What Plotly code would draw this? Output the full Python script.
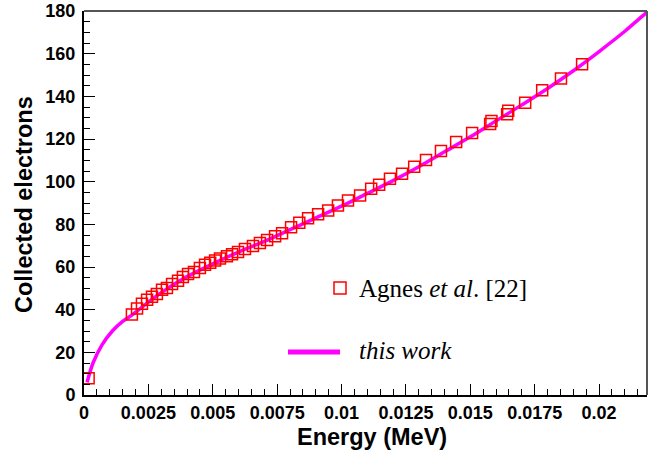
import plotly.graph_objects as go

# Data: Agnes et al. [22]
agnes_E = [0.00018, 0.00186, 0.00206, 0.00225, 0.00245, 0.00264, 0.00283, 0.00303, 0.00322,
           0.00342, 0.00365, 0.00384, 0.00404, 0.00427, 0.00450, 0.00470, 0.00490, 0.00509,
           0.00528, 0.00555, 0.00575, 0.00598, 0.00625, 0.00656, 0.00683, 0.00711, 0.00742,
           0.00769, 0.00804, 0.00836, 0.00870, 0.00909, 0.00948, 0.00986, 0.01025, 0.01072,
           0.01115, 0.01146, 0.01188, 0.01235, 0.01282, 0.01328, 0.01386, 0.01445, 0.01507,
           0.01577, 0.01582, 0.01643, 0.01647, 0.01713, 0.01779, 0.01852, 0.01934]
agnes_N = [7.9, 37.7, 40.5, 42.8, 44.7, 46.0, 47.4, 49.3, 50.2,
           52.0, 53.5, 55.3, 56.7, 57.7, 59.5, 61.0, 62.0, 63.0,
           64.0, 65.0, 66.0, 67.0, 68.4, 69.8, 71.2, 72.6, 74.4,
           75.8, 78.6, 80.8, 82.8, 84.7, 86.5, 88.8, 91.2, 93.5,
           96.7, 98.6, 101.4, 103.7, 107.0, 110.2, 114.4, 118.6, 122.8,
           127.0, 128.4, 131.6, 133.3, 137.0, 142.8, 148.4, 155.0]

# Data: this work (curve)
work_E = [0.00012, 0.00035, 0.0007, 0.0011, 0.0015, 0.0019, 0.0025, 0.003, 0.004, 0.005,
          0.006, 0.007, 0.008, 0.009, 0.010, 0.011, 0.012, 0.013, 0.014, 0.015, 0.016,
          0.017, 0.018, 0.019, 0.020, 0.021, 0.02186, 0.0225]
work_N = [6.0, 15.0, 23.5, 30.0, 34.5, 37.8, 43.5, 48.0, 55.5, 61.5,
          67.0, 72.0, 77.5, 83.0, 88.5, 94.5, 100.5, 107.0, 114.0, 121.0, 128.5,
          136.0, 143.7, 152.0, 161.0, 170.5, 179.5, 186.0]

x_tickvals = [0, 0.0025, 0.005, 0.0075, 0.01, 0.0125, 0.015, 0.0175, 0.02]
x_ticktext = ["0", "0.0025", "0.005", "0.0075", "0.01", "0.0125", "0.015", "0.0175", "0.02"]
y_tickvals = [0, 20, 40, 60, 80, 100, 120, 140, 160, 180]

fig = go.Figure()
fig.add_trace(go.Scatter(x=work_E, y=work_N, mode="lines", line=dict(color="#ff00ff", width=3.5, shape="spline", smoothing=0.8),
                         showlegend=False))
fig.add_trace(go.Scatter(x=agnes_E, y=agnes_N, mode="markers",
                         marker=dict(symbol="square-open", size=11, color="#ff0000", line=dict(width=1.5, color="#ff0000")),
                         showlegend=False, cliponaxis=False))

tickfont = dict(family="Liberation Sans", size=18, color="black", weight="bold")
fig.update_xaxes(range=[0, 0.02186], tickvals=x_tickvals, ticktext=x_ticktext, ticks="inside", ticklen=11,
                 tickwidth=1, tickcolor="black", showline=True, linecolor="black", linewidth=2,
                 showgrid=False, zeroline=False, tickfont=tickfont, ticklabeloverflow="allow", automargin=False,
                 minor=dict(dtick=0.0005, tick0=0, ticks="inside", ticklen=6, tickcolor="black", tickwidth=1, showgrid=False))
fig.update_yaxes(range=[0, 180], tickvals=y_tickvals, ticks="inside", ticklen=11,
                 tickwidth=1, tickcolor="black", showline=True, linecolor="black", linewidth=2,
                 showgrid=False, zeroline=False, tickfont=tickfont, ticklabeloverflow="allow", automargin=False,
                 ticklabelstandoff=3,
                 minor=dict(dtick=5, tick0=0, ticks="inside", ticklen=6, tickcolor="black", tickwidth=1, showgrid=False))

# frame top/right
fig.add_shape(type="line", xref="paper", yref="paper", x0=0, x1=1, y0=1, y1=1, line=dict(color="#555555", width=2))
fig.add_shape(type="line", xref="paper", yref="paper", x0=1, x1=1, y0=0, y1=1, line=dict(color="#555555", width=2))

# legend (positions given in figure pixels, converted to paper fractions)
L, T, R, B = 84.0, 11.0, 10.0, 62.0
W, H = 657.0 - L - R, 457.0 - T - B
def px(xp): return (xp - L) / W
def py(yp): return 1 - (yp - T) / H

fig.add_shape(type="rect", xref="paper", yref="paper", x0=px(334), x1=px(346), y0=py(294), y1=py(282),
              line=dict(color="#ff0000", width=1.5))
fig.add_shape(type="line", xref="paper", yref="paper", x0=px(288), x1=px(340), y0=py(352), y1=py(352),
              line=dict(color="#ff00ff", width=5))
legfont = dict(family="Liberation Serif", size=25, color="black")
fig.add_annotation(xref="paper", yref="paper", x=px(357), y=py(288), text="Agnes <i>et al</i>. [22]",
                   showarrow=False, xanchor="left", yanchor="middle", font=legfont)
fig.add_annotation(xref="paper", yref="paper", x=px(357), y=py(350), text="<i>this work</i>",
                   showarrow=False, xanchor="left", yanchor="middle", font=legfont)

titlefont = dict(family="Liberation Sans", size=23.5, color="black")
fig.add_annotation(xref="paper", yref="paper", x=px(372), y=py(437), text="<b>Energy (MeV)</b>",
                   showarrow=False, xanchor="center", yanchor="middle", font=titlefont)
fig.add_annotation(xref="paper", yref="paper", x=px(24), y=py(205), text="<b>Collected electrons</b>",
                   showarrow=False, xanchor="center", yanchor="middle", textangle=-90, font=titlefont)

fig.update_layout(width=657, height=457, margin=dict(l=L, r=R, t=T, b=B, autoexpand=False),
                  plot_bgcolor="white", paper_bgcolor="white")
fig.write_html("out.html")
